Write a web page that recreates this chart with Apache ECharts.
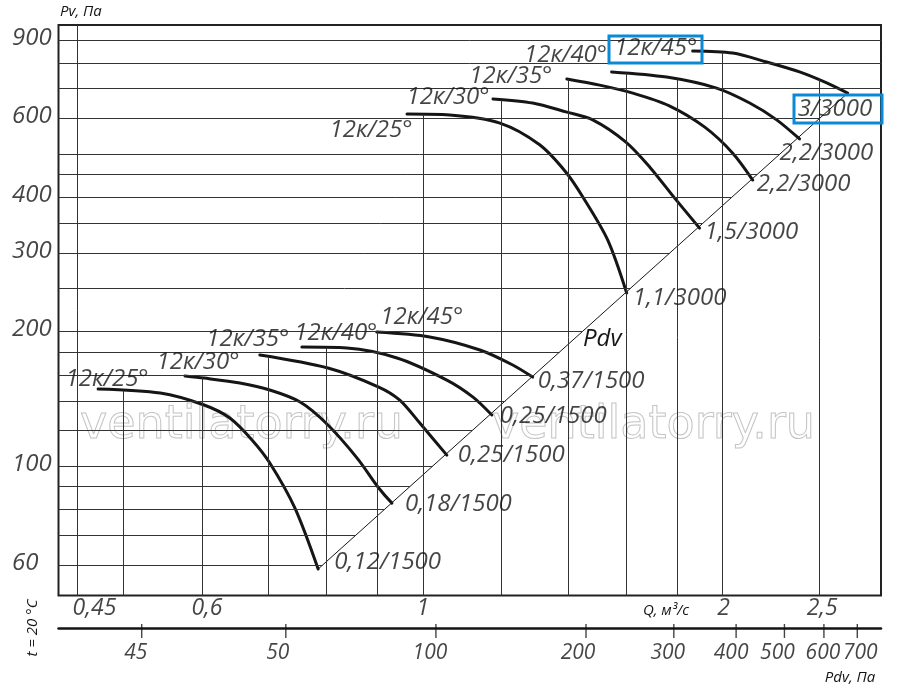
<!DOCTYPE html>
<html>
<head>
<meta charset="utf-8">
<title>12к fan chart</title>
<script src="https://cdn.jsdelivr.net/npm/echarts@6/dist/echarts.min.js"></script>
<style>
  html, body { margin: 0; padding: 0; background: #fff; }
  #chart { width: 900px; height: 691px; }
</style>
</head>
<body>
<div id="chart"></div>
<script>
// --- data: [Q m3/s, Pv Pa] ---
const curveNames = ['12к/25°', '12к/30°', '12к/35°', '12к/40°', '12к/45°'];
const motors1500 = ['0,12/1500', '0,18/1500', '0,25/1500', '0,25/1500', '0,37/1500'];
const motors3000 = ['1,1/3000', '1,5/3000', '2,2/3000', '2,2/3000', '3/3000'];

// 1500 rpm
const low25 = [[0.472, 148.8], [0.545, 145.7], [0.603, 137.0], [0.640, 128.1], [0.674, 114.3], [0.702, 101.6], [0.744, 80.5], [0.785, 58.8]];
const low30 = [[0.577, 159.1], [0.603, 157.4], [0.655, 153.4], [0.702, 148.0], [0.753, 139.1], [0.803, 123.6], [0.859, 104.2], [0.903, 89.3], [0.931, 82.6]];
const low35 = [[0.686, 177.3], [0.803, 165.8], [0.903, 150.3], [0.948, 140.5], [0.993, 124.8], [1.057, 105.8]];
const low40 = [[0.756, 184.7], [0.839, 183.8], [0.942, 174.6], [1.057, 155.8], [1.123, 142.7], [1.173, 130.1]];
const low45 = [[0.899, 199.5], [1.016, 194.5], [1.141, 181.9], [1.231, 168.4], [1.289, 158.2]];

// 3000 rpm
const high25 = [[0.964, 614], [1.064, 611], [1.195, 586], [1.310, 524], [1.392, 455], [1.447, 401], [1.533, 321], [1.602, 244]];
const high30 = [[1.176, 664], [1.289, 650], [1.392, 621], [1.481, 596], [1.598, 532], [1.690, 467], [1.790, 398], [1.896, 341]];
const high35 = [[1.395, 736], [1.505, 713], [1.625, 684], [1.770, 640], [1.919, 574], [2.047, 502], [2.144, 437]];
const high40 = [[1.547, 763], [1.757, 743], [1.972, 702], [2.129, 650], [2.266, 596], [2.389, 540]];
const high45 = [[1.866, 850], [2.047, 841], [2.214, 803], [2.389, 763], [2.544, 721], [2.670, 684]];

// dynamic pressure line Pdv
const pdvLine = [[0.785, 58.8], [2.670, 684]];

// grid and ticks
const qGrid = [0.45, 0.5, 0.6, 0.7, 0.8, 0.9, 1, 1.2, 1.4, 1.6, 1.8, 2, 2.5];
const pGrid = [60, 70, 80, 90, 100, 120, 140, 160, 180, 200, 250, 300, 350, 400, 450, 500, 600, 700, 800, 900];
const qTicks = [0.45, 0.6, 1, 2, 2.5];
const qTickLabels = ['0,45', '0,6', '1', '2', '2,5'];
const pTicks = [60, 100, 200, 300, 400, 600, 900];
const pdvTicks = [25.7, 50, 100, 200, 300, 400, 500, 600, 700];
const pdvTickLabels = ['45', '50', '100', '200', '300', '400', '500', '600', '700'];

// axis extents
const qMin = 0.4307, qMax = 2.884;
const pMin = 51.3, pMax = 972;
const pdvMin = 17.5, pdvMax = 781;

// --- styles ---
const ink = '#151515';
const gridColor = '#333';
const font = '"Open Sans", "DejaVu Sans", sans-serif';
const bigText = { fontFamily: font, fontStyle: 'italic', fontSize: 24, color: ink };

// label shifts in px (label centre for names, left edge for motors)
const nameShift = [[9, -10], [13, -14], [-12, -16], [34, -14], [45, -15],
                   [-36, 16], [-45, -2], [-56, -3], [-46, -17], [-37, -3]];
const motorShift = [[16, -7], [13, 1], [11, 0], [8, 1], [5, 4],
                    [6, 5], [5, 4], [4, 4], [-20, 14], [-50, 16]];
const qLabelShift = [17, 5, 0, 1, 3];
const pdvLabelShift = [-6, -8, -6, -8, -6, -5, -7, -1, 3];

const curves = [low25, low30, low35, low40, low45, high25, high30, high35, high40, high45];
const names = curveNames.concat(curveNames);
const motors = motors1500.concat(motors3000);

// value of a curve at q, interpolated in log-log space
function atQ(pts, q) {
    for (let i = 0; i < pts.length - 1; i++) {
        const a = pts[i], b = pts[i + 1];
        if (q >= a[0] && q <= b[0]) {
            const t = (Math.log(q) - Math.log(a[0])) / (Math.log(b[0]) - Math.log(a[0]));
            return Math.exp(Math.log(a[1]) + t * (Math.log(b[1]) - Math.log(a[1])));
        }
    }
    return null;
}

// where the Pdv line reaches pressure p
function qOnPdv(p) {
    const a = pdvLine[0], b = pdvLine[1];
    const t = (Math.log(p) - Math.log(a[1])) / (Math.log(b[1]) - Math.log(a[1]));
    if (t > 1) return qMax;
    return Math.exp(Math.log(a[0]) + t * (Math.log(b[0]) - Math.log(a[0])));
}

// vertical lines stop at the highest curve, horizontal at the Pdv line
let gridLines = [];
qGrid.forEach(q => {
    let top = null;
    curves.forEach(c => {
        const v = atQ(c, q);
        if (v !== null && (top === null || v > top)) top = v;
    });
    gridLines.push([{ coord: [q, pMin] }, { coord: [q, top === null ? pMax : top] }]);
});
pGrid.forEach(p => {
    gridLines.push([{ coord: [qMin, p] }, { coord: [qOnPdv(p), p] }]);
});

const chart = echarts.init(document.getElementById('chart'));

let series = [];

series.push({
    type: 'line',
    data: pdvLine,
    symbol: 'none',
    lineStyle: { color: ink, width: 1 },
    silent: true,
    z: 2,
    markLine: {
        silent: true,
        symbol: ['none', 'none'],
        label: { show: false },
        lineStyle: { type: 'solid', color: gridColor, width: 1 },
        data: gridLines
    }
});

curves.forEach(c => {
    series.push({
        type: 'line',
        data: c,
        symbol: 'none',
        smooth: 0.3,
        lineStyle: { color: ink, width: 3, cap: 'round' },
        silent: true,
        z: 4
    });
});

// curve names at the start of each curve
series.push({
    type: 'scatter',
    symbolSize: 1,
    itemStyle: { color: 'transparent' },
    silent: true,
    clip: false,
    z: 5,
    data: curves.map((c, i) => ({
        value: c[0],
        label: { show: true, formatter: names[i], position: 'inside', align: 'center', verticalAlign: 'middle', offset: nameShift[i], ...bigText }
    }))
});

// motor power / rpm at the end of each curve
series.push({
    type: 'scatter',
    symbolSize: 1,
    itemStyle: { color: 'transparent' },
    silent: true,
    clip: false,
    z: 5,
    data: curves.map((c, i) => ({
        value: c[c.length - 1],
        label: { show: true, formatter: motors[i], position: 'inside', align: 'left', verticalAlign: 'middle', offset: motorShift[i], ...bigText }
    }))
});

// Q tick labels under the plot
series.push({
    type: 'scatter',
    symbolSize: 1,
    itemStyle: { color: 'transparent' },
    silent: true,
    clip: false,
    data: qTicks.map((q, i) => ({
        value: [q, pMin],
        label: { show: true, formatter: qTickLabels[i], position: 'inside', align: 'center', verticalAlign: 'middle', offset: [qLabelShift[i], 13], ...bigText, fontSize: 23 }
    }))
});

// Pv tick labels, left aligned at the page edge
series.push({
    type: 'scatter',
    symbolSize: 1,
    itemStyle: { color: 'transparent' },
    silent: true,
    clip: false,
    data: pTicks.map(p => ({
        value: [qMin, p],
        label: { show: true, formatter: String(p), position: 'inside', align: 'left', verticalAlign: 'middle', offset: [-46.5, -2], ...bigText }
    }))
});

// Pdv scale below
series.push({
    type: 'scatter',
    xAxisIndex: 1,
    yAxisIndex: 1,
    symbol: 'rect',
    symbolSize: [1.4, 14],
    symbolOffset: [0, 3],
    itemStyle: { color: ink },
    silent: true,
    clip: false,
    data: pdvTicks.map((v, i) => ({
        value: [v, 0],
        label: { show: true, formatter: pdvTickLabels[i], position: 'inside', align: 'center', verticalAlign: 'middle', offset: [pdvLabelShift[i], 22], ...bigText, fontSize: 21 }
    }))
});

const hidden = { axisLine: { show: false }, axisTick: { show: false }, axisLabel: { show: false }, splitLine: { show: false } };

const option = {
    animation: false,
    backgroundColor: '#fff',
    grid: [
        { left: 58.5, right: 19, top: 25, bottom: 95.5, show: true, borderColor: '#222', borderWidth: 2, backgroundColor: 'transparent' },
        { left: 58.5, right: 19, top: 627, height: 1 }
    ],
    xAxis: [
        { type: 'log', logBase: 10, min: qMin, max: qMax, gridIndex: 0, ...hidden },
        { type: 'log', logBase: 10, min: pdvMin, max: pdvMax, gridIndex: 1, position: 'bottom',
          axisLine: { show: true, lineStyle: { color: ink, width: 2.5 } },
          axisTick: { show: false }, axisLabel: { show: false }, splitLine: { show: false } }
    ],
    yAxis: [
        { type: 'log', logBase: 10, min: pMin, max: pMax, gridIndex: 0, ...hidden },
        { type: 'value', min: 0, max: 1, gridIndex: 1, ...hidden }
    ],
    graphic: [
        { type: 'text', x: 60, y: 12, style: { text: 'Pv, Па', font: 'italic 15px ' + font, fill: ink, align: 'left', textAlign: 'left', verticalAlign: 'middle', textVerticalAlign: 'middle' } },
        { type: 'text', x: 666, y: 611, style: { text: 'Q, м³/с', font: 'italic 15px ' + font, fill: ink, align: 'center', textAlign: 'center', verticalAlign: 'middle', textVerticalAlign: 'middle' } },
        { type: 'text', x: 850, y: 678, style: { text: 'Pdv, Па', font: 'italic 15px ' + font, fill: ink, align: 'center', textAlign: 'center', verticalAlign: 'middle', textVerticalAlign: 'middle' } },
        { type: 'text', x: 33, y: 628, rotation: Math.PI / 2, style: { text: 't = 20 °C', font: 'italic 15px ' + font, fill: ink, align: 'center', textAlign: 'center', verticalAlign: 'middle', textVerticalAlign: 'middle' } },
        { type: 'text', x: 583, y: 339, style: { text: 'Pdv', font: 'italic 24px ' + font, fill: ink, align: 'left', textAlign: 'left', verticalAlign: 'middle', textVerticalAlign: 'middle' } },
        // watermark
        { type: 'text', x: 80, y: 426, z: 1, style: { text: 'ventilatorry.ru', font: '46px "DejaVu Sans"', fill: 'transparent', stroke: '#c4c4c4', lineWidth: 1, align: 'left', textAlign: 'left', verticalAlign: 'middle', textVerticalAlign: 'middle' } },
        { type: 'text', x: 492, y: 426, z: 1, style: { text: 'ventilatorry.ru', font: '46px "DejaVu Sans"', fill: 'transparent', stroke: '#c4c4c4', lineWidth: 1, align: 'left', textAlign: 'left', verticalAlign: 'middle', textVerticalAlign: 'middle' } },
        // highlight boxes
        { type: 'rect', z: 10, shape: { x: 609, y: 36, width: 93, height: 27 }, style: { fill: 'transparent', stroke: '#0a8ad6', lineWidth: 3 } },
        { type: 'rect', z: 10, shape: { x: 794, y: 95, width: 88, height: 28 }, style: { fill: 'transparent', stroke: '#0a8ad6', lineWidth: 3 } }
    ],
    series: series
};

chart.setOption(option);
</script>
</body>
</html>
